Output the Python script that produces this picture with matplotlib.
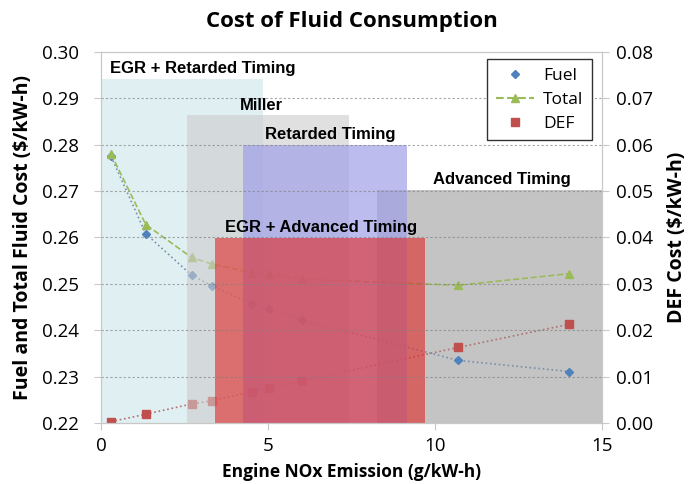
import matplotlib.pyplot as plt
from matplotlib.patches import Rectangle
from matplotlib.lines import Line2D

# engine NOx (g/kW-h)
nox = [0.3, 1.34, 2.71, 3.31, 4.51, 5.02, 6.01, 10.70, 14.02]
fuel = [0.2775, 0.2608, 0.2519, 0.2496, 0.2457, 0.2445, 0.2422, 0.2335, 0.2311]
total = [0.2780, 0.2628, 0.2557, 0.2543, 0.2524, 0.2521, 0.2510, 0.2497, 0.2522]
def_cost = [0.0003, 0.0019, 0.0041, 0.0048, 0.0067, 0.0075, 0.0091, 0.0163, 0.0213]

# strategy regions: name, x start, x end, top (left axis)
regions = ['EGR + Retarded Timing', 'Miller', 'Retarded Timing',
           'Advanced Timing', 'EGR + Advanced Timing']
reg_x0 = [0.0, 2.57, 4.25, 8.25, 3.41]
reg_x1 = [4.85, 7.42, 9.15, 15.0, 9.70]
reg_top = [0.2941, 0.2864, 0.2800, 0.2703, 0.2599]
reg_col = ['#e0f0f2', '#cccccc', '#a0a0e8', '#c4c4c4', '#e12828']
reg_alpha = [1.0, 0.6, 0.7, 1.0, 0.6]
reg_z = [0.2, 2.1, 2.2, 0.3, 2.3]
# label positions
lab_x = [0.27, 4.16, 4.91, 9.94, 3.71]
lab_y = [0.2965, 0.2885, 0.2822, 0.2725, 0.2621]

fig = plt.figure(figsize=(6.88, 4.84), dpi=100)
ax = fig.add_axes([0.1468, 0.126, 0.7282, 0.7666])
ax2 = ax.twinx()

tickfont = 'Open Sans'
boldfont = 'Liberation Sans'

ax.set_xlim(0, 15)
ax.set_ylim(0.22, 0.30)
ax2.set_ylim(0.0, 0.08)
ax.set_xticks([0, 5, 10, 15])
ax.set_yticks([0.22 + 0.01 * i for i in range(9)])
ax2.set_yticks([0.01 * i for i in range(9)])
ax.set_yticklabels(['%.2f' % (0.22 + 0.01 * i) for i in range(9)])
ax2.set_yticklabels(['%.2f' % (0.01 * i) for i in range(9)])

# grid lines (over the boxes, faint)
for i in range(1, 8):
    ax.axhline(0.22 + 0.01 * i, color='#808080', ls=(0, (2, 2)), lw=0.8,
               alpha=0.7, zorder=3)

# data lines and markers
ax.plot(nox, fuel, ls=':', color='#7890a8', lw=1.2, marker='D', ms=4,
        mfc='#4f81bd', mec='#4f81bd', zorder=2)
ax.plot(nox, total, ls='--', color='#9bbb59', lw=1.2, marker='^', ms=6,
        mfc='#9bbb59', mec='#9bbb59', zorder=2)
# DEF uses the right axis scale
ax.plot(nox, def_cost, ls=':', color='#b07070', lw=1.2, marker='s', ms=6,
        mfc='#c0504d', mec='#c0504d', zorder=2, transform=ax2.transData)

# strategy boxes
for x0, x1, top, c, a, z in zip(reg_x0, reg_x1, reg_top, reg_col, reg_alpha, reg_z):
    ax.add_patch(Rectangle((x0, 0.22), x1 - x0, top - 0.22, facecolor=c,
                           alpha=a, edgecolor='none', zorder=z))

for name, x, y in zip(regions, lab_x, lab_y):
    ax.text(x, y, name, fontsize=12, fontweight='bold',
            family=boldfont, ha='left', va='center', zorder=4)

ax2.patch.set_visible(False)

for a in (ax, ax2):
    for s in a.spines.values():
        s.set_color('#c8c8c8')
    a.tick_params(colors='#c8c8c8', labelcolor='black', length=5,
                  labelsize=13.5, pad=5)
    for lab in a.get_xticklabels() + a.get_yticklabels():
        lab.set_family(tickfont)
ax.tick_params(axis='y', pad=11)

ax.set_xlabel('Engine NOx Emission (g/kW-h)', fontsize=12.5, fontweight='bold',
              family=tickfont, labelpad=6)
ax.set_ylabel('Fuel and Total Fluid Cost ($/kW-h)', fontsize=14,
              fontweight='bold', family=tickfont, labelpad=6)
ax2.set_ylabel('DEF Cost ($/kW-h)', fontsize=14, fontweight='bold',
               family=tickfont, labelpad=10)
ax.set_title('Cost of Fluid Consumption', fontsize=16, fontweight='bold',
             family=tickfont, pad=18)

handles = [
    Line2D([], [], ls='none', marker='D', ms=4, color='#4f81bd'),
    Line2D([], [], ls='--', marker='^', ms=6, color='#9bbb59'),
    Line2D([], [], ls='none', marker='s', ms=6, color='#c0504d'),
]
leg = ax.legend(handles, ['Fuel', 'Total', 'DEF'], loc='upper right',
                bbox_to_anchor=(0.980, 0.981), borderaxespad=0, fancybox=False,
                framealpha=1, edgecolor='#333333',
                prop={'family': tickfont, 'size': 12.5},
                handlelength=2.2, handletextpad=0.5, borderpad=0.5,
                labelspacing=0.45)
leg.set_zorder(5)

fig.savefig('out.png', dpi=100)
